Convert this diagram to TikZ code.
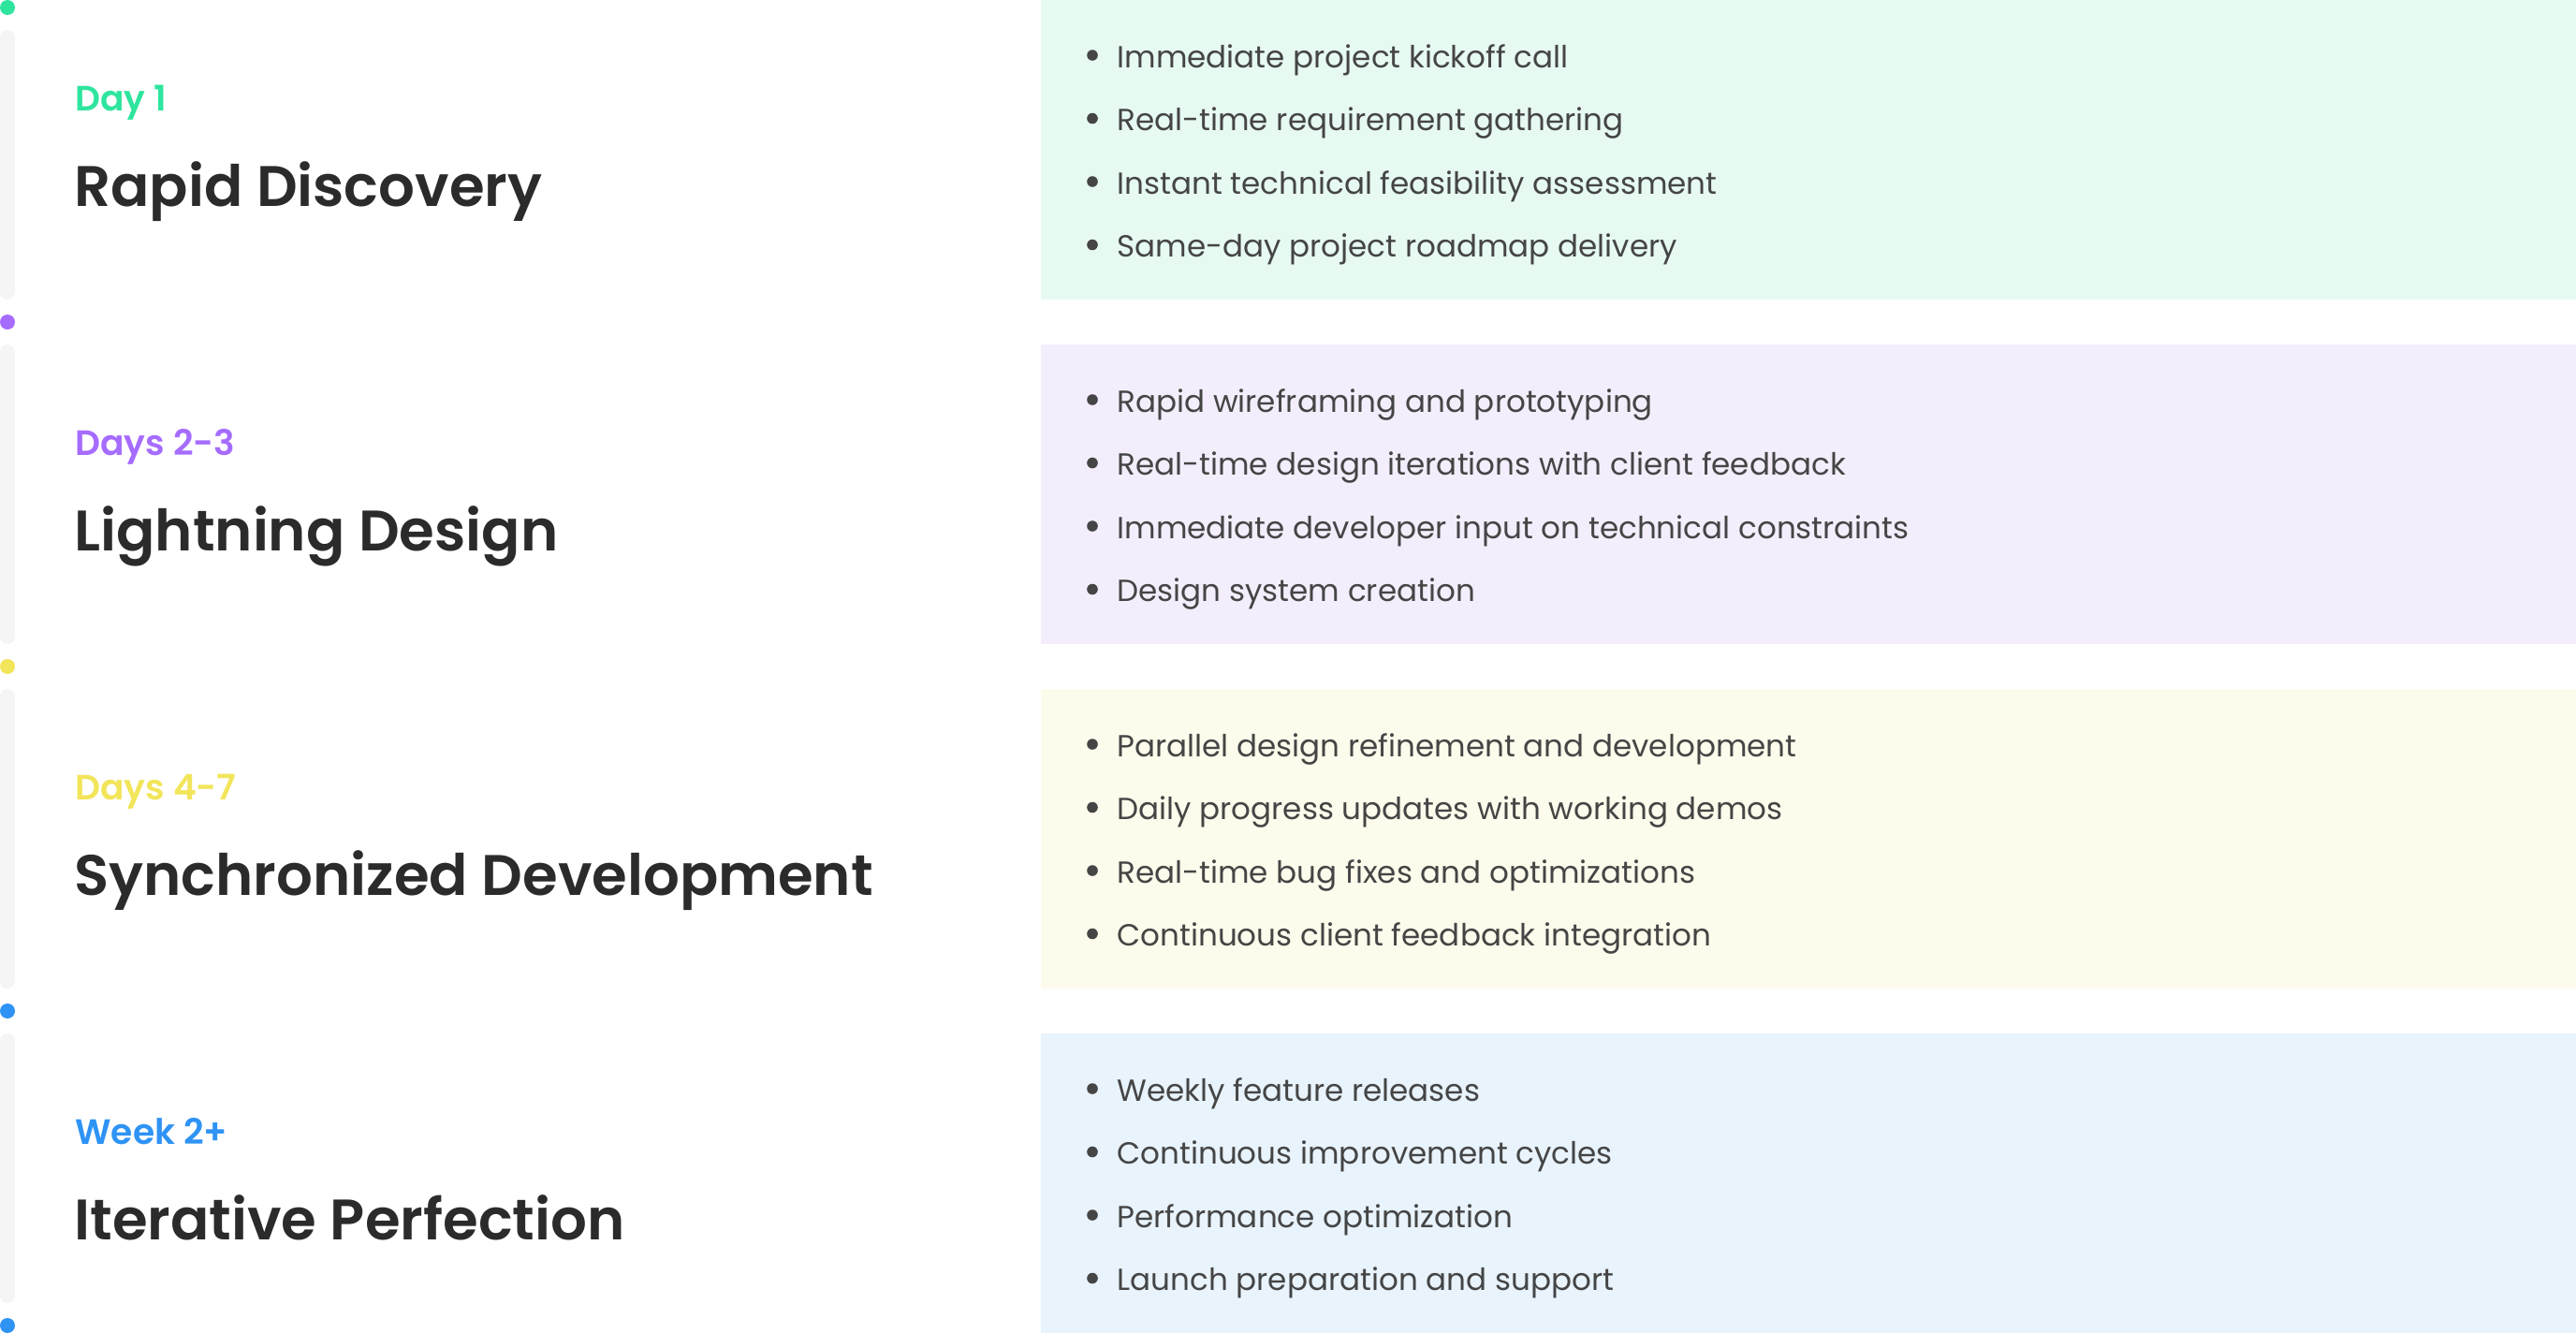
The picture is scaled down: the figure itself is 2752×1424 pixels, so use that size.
\documentclass[tikz,border=0pt]{standalone}
\usepackage{fontspec}
\setmainfont{Poppins}
\IfFontExistsTF{Poppins SemiBold}
  {\newfontfamily\headfont{Poppins SemiBold}}
  {\newfontfamily\headfont{Poppins}[UprightFont=*-Bold]}

\definecolor{titlec}{HTML}{2B2B2B}
\definecolor{itemc}{HTML}{454545}
\definecolor{railc}{HTML}{F5F5F5}
\definecolor{cgreen}{HTML}{2EE59D}
\definecolor{cpurple}{HTML}{A66CFF}
\definecolor{cyellow}{HTML}{F2E55A}
\definecolor{cblue}{HTML}{2E93F5}
\definecolor{fgreen}{HTML}{E6FAF2}
\definecolor{fpurple}{HTML}{F4EEFC}
\definecolor{fyellow}{HTML}{FDFCEC}
\definecolor{fblue}{HTML}{E8F3FC}

\begin{document}
\begin{tikzpicture}[x=0.5pt,y=-0.5pt,
  tag/.style={anchor=base west, inner sep=0pt, font=\headfont\fontsize{18.8pt}{22pt}\selectfont},
  heading/.style={anchor=base west, inner sep=0pt, text=titlec, font=\headfont\fontsize{30.5pt}{35pt}\selectfont},
  item/.style={anchor=base west, inner sep=0pt, text=itemc, font=\fontsize{16.3pt}{20pt}\selectfont},
  rail/.style={fill=railc, rounded corners=4pt},
  dot/.style={circle, inner sep=0pt, minimum size=8pt}
]
\useasboundingbox (0,0) rectangle (2752,1424);
\fill[white] (0,0) rectangle (2752,1424);

% timeline rails along the left edge
\fill[rail] (0,32) rectangle (16,320);
\fill[rail] (0,368) rectangle (16,688);
\fill[rail] (0,736) rectangle (16,1056);
\fill[rail] (0,1104) rectangle (16,1392);

% timeline markers
\node[dot, fill=cgreen]  (m0) at (8,8) {};
\node[dot, fill=cpurple] (m1) at (8,344) {};
\node[dot, fill=cyellow] (m2) at (8,712) {};
\node[dot, fill=cblue]   (m3) at (8,1080) {};
\node[dot, fill=cblue]   (m4) at (8,1416) {};

% phase rows
\foreach \r/\lab/\col/\bg/\ttl/\ia/\ib/\ic/\id in {
  0/{Day 1}/cgreen/fgreen/{Rapid Discovery}/{Immediate project kickoff call}/{Real-time requirement gathering}/{Instant technical feasibility assessment}/{Same-day project roadmap delivery},
  1/{Days 2-3}/cpurple/fpurple/{Lightning Design}/{Rapid wireframing and prototyping}/{Real-time design iterations with client feedback}/{Immediate developer input on technical constraints}/{Design system creation},
  2/{Days 4-7}/cyellow/fyellow/{Synchronized Development}/{Parallel design refinement and development}/{Daily progress updates with working demos}/{Real-time bug fixes and optimizations}/{Continuous client feedback integration},
  3/{Week 2+}/cblue/fblue/{Iterative Perfection}/{Weekly feature releases}/{Continuous improvement cycles}/{Performance optimization}/{Launch preparation and support}}
{
  \pgfmathsetmacro{\oy}{368*\r}
  \fill[\bg] (1112,\oy) rectangle (2752,\oy+320);
  \node[tag, text=\col] (tag\r) at (80,\oy+118) {\lab};
  \node[heading] (head\r) at (79,\oy+220) {\ttl};
  \foreach \k/\txt in {0/\ia,1/\ib,2/\ic,3/\id}{
    \pgfmathsetmacro{\by}{\oy+72+67.5*\k}
    \fill[itemc] (1167,\by-13) circle (2.9pt);
    \node[item] (item\r-\k) at (1193,\by) {\txt};
  }
}
\end{tikzpicture}
\end{document}
